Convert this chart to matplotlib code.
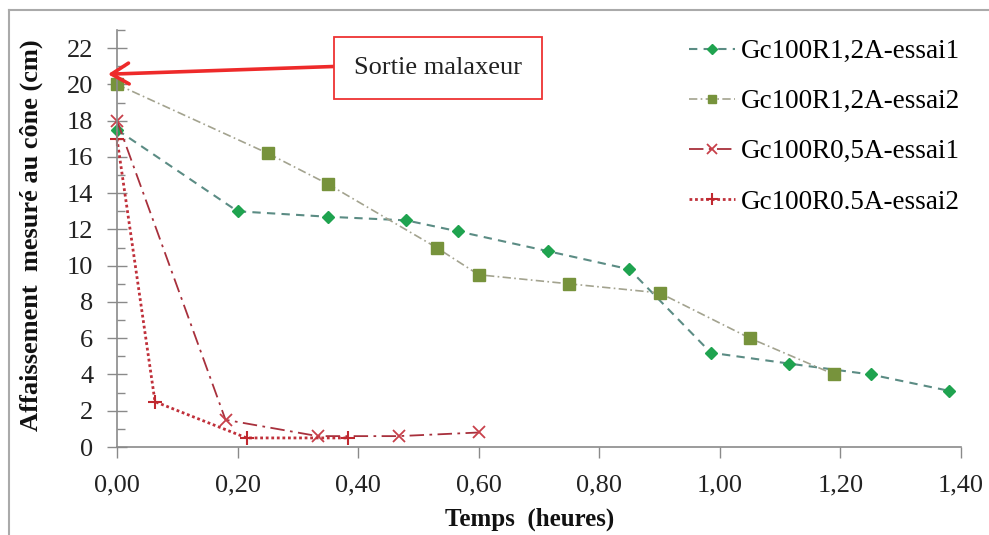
import matplotlib
matplotlib.use("Agg")
import matplotlib.pyplot as plt
from matplotlib.lines import Line2D
from matplotlib.ticker import MultipleLocator, FuncFormatter

plt.rcParams['font.family'] = ['Liberation Serif', 'DejaVu Serif']

# Slump measured at the cone vs time (hours)
t_r12_e1 = [0.00, 0.20, 0.35, 0.48, 0.565, 0.715, 0.85, 0.985, 1.115, 1.25, 1.38]
s_r12_e1 = [17.5, 13.0, 12.7, 12.5, 11.9, 10.8, 9.8, 5.2, 4.6, 4.0, 3.1]

t_r12_e2 = [0.00, 0.25, 0.35, 0.53, 0.60, 0.75, 0.90, 1.05, 1.19]
s_r12_e2 = [20.0, 16.2, 14.5, 11.0, 9.5, 9.0, 8.5, 6.0, 4.0]

t_r05_e1 = [0.00, 0.18, 0.333, 0.467, 0.60]
s_r05_e1 = [18.0, 1.5, 0.6, 0.6, 0.8]

t_r05_e2 = [0.00, 0.063, 0.215, 0.383]
s_r05_e2 = [17.0, 2.5, 0.5, 0.5]

labels = ['Gc100R1,2A-essai1', 'Gc100R1,2A-essai2',
          'Gc100R0,5A-essai1', 'Gc100R0.5A-essai2']

fig = plt.figure(figsize=(9.89, 5.35), dpi=100)
ax = fig.add_axes([117/989, 1 - 447/535, (961-117)/989, (447-30)/535])

ax.plot(t_r12_e1, s_r12_e1, color='#5b8c84', linestyle=(0, (4, 3)), lw=1.5,
        marker='D', markersize=6, markerfacecolor='#1fa34f',
        markeredgecolor='#1fa34f', label=labels[0], clip_on=False)
ax.plot(t_r12_e2, s_r12_e2, color='#a3a38f', linestyle=(0, (5, 2, 1, 2)), lw=1.2,
        marker='s', markersize=8, markerfacecolor='#77933c',
        markeredgecolor='#77933c', label=labels[1], clip_on=False)
ax.plot(t_r05_e1, s_r05_e1, color='#a8303c', linestyle=(0, (8, 3, 1.5, 3)), lw=1.3,
        marker='x', markersize=9, markeredgewidth=1.3, markeredgecolor='#c8404a',
        label=labels[2], clip_on=False)
ax.plot(t_r05_e2, s_r05_e2, color='#c0303a', linestyle=(0, (1, 1)), lw=2,
        marker='+', markersize=10, markeredgewidth=1.5, markeredgecolor='#c0282f',
        label=labels[3], clip_on=False)

ax.set_xlim(0, 1.4)
ax.set_ylim(0, 23)
ax.set_xticks([0, 0.2, 0.4, 0.6, 0.8, 1.0, 1.2, 1.4])
ax.set_yticks(range(0, 23, 2))
ax.yaxis.set_minor_locator(MultipleLocator(1))
ax.xaxis.set_major_formatter(FuncFormatter(lambda v, p: f"{v:.2f}".replace('.', ',')))

for s in ['top', 'right']:
    ax.spines[s].set_visible(False)
for s in ['left', 'bottom']:
    ax.spines[s].set_color('#8a8a8a')
    ax.spines[s].set_linewidth(1.2)

ax.tick_params(axis='y', which='major', direction='inout', length=14, width=1,
               color='#8a8a8a', labelsize=19, pad=10, labelcolor='#222222')
ax.tick_params(axis='y', which='minor', direction='in', length=6, width=1,
               color='#8a8a8a')
ax.tick_params(axis='x', which='major', direction='out', length=8, width=1,
               color='#8a8a8a', labelsize=19, pad=12, labelcolor='#222222')

ax.set_xlabel('Temps  (heures)', fontsize=18, fontweight='bold', color='#111111')
ax.set_ylabel('Affaissement  mesuré au cône (cm)', fontsize=19, fontweight='bold',
              color='#111111')
ax.xaxis.set_label_coords(0.489, -0.146)
ax.yaxis.set_label_coords(-0.088, 0.507)

ax.legend(loc='upper left', bbox_to_anchor=(689/989, 1 - 39/535),
          bbox_transform=fig.transFigure, frameon=False, fontsize=19.5,
          handlelength=1.7, handletextpad=0.2, labelspacing=0.93,
          borderpad=0, borderaxespad=0, markerscale=0.8)

ax.annotate('Sortie malaxeur', xy=(-0.015, 20.56), xycoords='data',
            xytext=(438, 535 - 68), textcoords='figure pixels',
            fontsize=19, color='#222222', ha='center', va='center',
            annotation_clip=False,
            bbox=dict(boxstyle='square,pad=0.75', facecolor='white',
                      edgecolor='#ee3333', lw=1.3),
            arrowprops=dict(arrowstyle='->,head_length=0.5,head_width=0.3',
                            color='#ee2a2a', lw=2.6, mutation_scale=25,
                            relpos=(0, 0.6), shrinkA=0, shrinkB=0))

# outer frame of the original figure (partially cropped)
fig.add_artist(Line2D([9/989, 1], [1 - 10/535, 1 - 10/535], color='#aaaaaa', lw=1.5))
fig.add_artist(Line2D([9/989, 9/989], [0, 1 - 10/535], color='#aaaaaa', lw=1.5))

fig.savefig('out.png', dpi=100)
